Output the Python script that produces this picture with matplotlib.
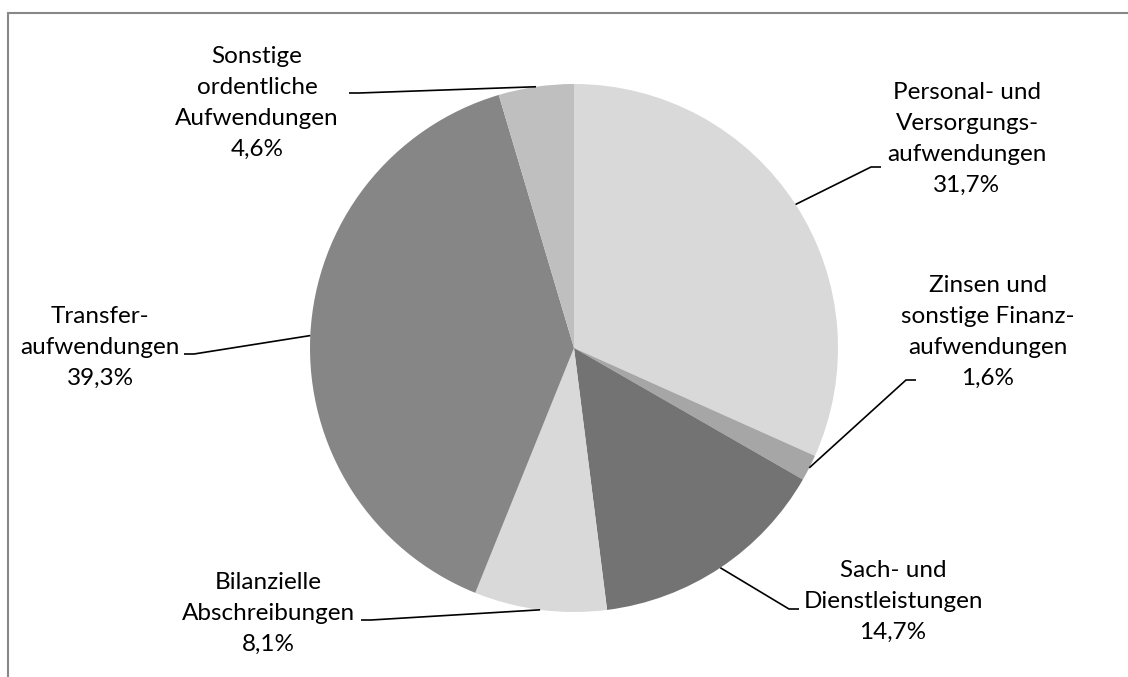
import matplotlib
matplotlib.use("Agg")
import matplotlib.pyplot as plt
from matplotlib.patches import Rectangle
import numpy as np

# ---- data ----
categories = [
    "Personal- und\nVersorgungs-\naufwendungen",
    "Zinsen und\nsonstige Finanz-\naufwendungen",
    "Sach- und\nDienstleistungen",
    "Bilanzielle\nAbschreibungen",
    "Transfer-\naufwendungen",
    "Sonstige\nordentliche\nAufwendungen",
]
values = [31.7, 1.6, 14.7, 8.1, 39.3, 4.6]
colors = ["#d9d9d9", "#a6a6a6", "#737373", "#d9d9d9", "#868686", "#bfbfbf"]

# ---- layout (pixel coordinates, y measured from top) ----
W, H = 1128, 677
CX, CY, R = 574, 348, 264
label_pos = [(967, 139), (988, 332), (893, 601), (268, 613), (100, 347), (257, 103)]
leader_end = [(881, 167), (916, 380), (799, 609), (361, 620), (184, 354), (349, 93)]
leader_dir = [1, 1, 1, -1, -1, -1]

plt.rcParams['font.family'] = ['Lato', 'DejaVu Sans']
fig = plt.figure(figsize=(W / 100, H / 100), dpi=100)
ax = fig.add_axes([0, 0, 1, 1])

wedges, _ = ax.pie(values, colors=colors, startangle=90, counterclock=False,
                   center=(CX, H - CY), radius=R,
                   wedgeprops=dict(linewidth=0))
ax.set_xlim(0, W)
ax.set_ylim(0, H)
ax.set_aspect('auto')
ax.axis('off')

for w, cat, val, (tx, ty), (ex, ey), d in zip(wedges, categories, values,
                                              label_pos, leader_end, leader_dir):
    th = np.deg2rad((w.theta1 + w.theta2) / 2)
    px = CX + R * np.cos(th)
    py = (H - CY) + R * np.sin(th)
    bx = ex - 10 * d
    ax.plot([px, bx, ex], [py, H - ey, H - ey], color="black", lw=1.2,
            solid_capstyle='butt', zorder=3)
    txt = cat + "\n" + f"{val:.1f}".replace(".", ",") + "%"
    ax.text(tx, H - ty, txt, ha='center', va='center', fontsize=17.5,
            linespacing=1.58, color="black", multialignment='center')

# chart frame (cut at right and bottom)
ax.add_patch(Rectangle((8, -20), W + 40, H - 13 + 20, fill=False,
                       edgecolor="#888888", lw=1.5, clip_on=False))

fig.savefig("out.png", dpi=100)
